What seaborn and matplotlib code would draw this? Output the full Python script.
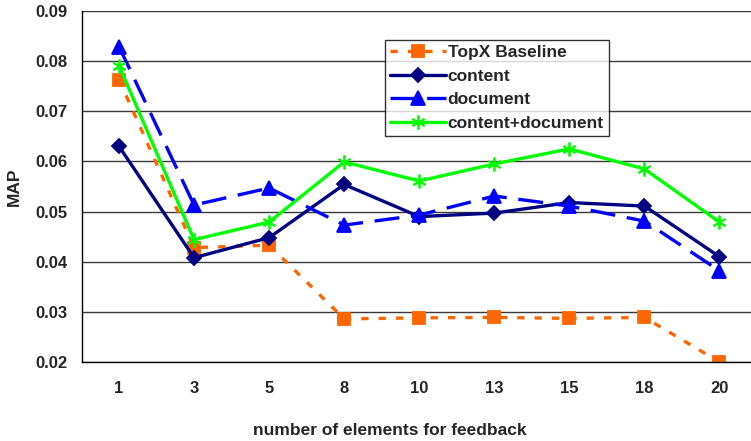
import matplotlib
matplotlib.use('Agg')
import matplotlib.pyplot as plt
from matplotlib.ticker import FixedLocator, NullFormatter
import seaborn as sns
import pandas as pd

k_values = ['1', '3', '5', '8', '10', '13', '15', '18', '20']
topx = [0.0763, 0.0428, 0.0433, 0.0286, 0.0288, 0.0289, 0.0287, 0.0289, 0.0200]
content = [0.0630, 0.0408, 0.0448, 0.0554, 0.0490, 0.0497, 0.0518, 0.0511, 0.0410]
document = [0.0829, 0.0513, 0.0547, 0.0473, 0.0493, 0.0531, 0.0511, 0.0481, 0.0382]
content_doc = [0.0791, 0.0444, 0.0479, 0.0599, 0.0561, 0.0595, 0.0625, 0.0585, 0.0479]

series = {
    'TopX Baseline': topx,
    'content': content,
    'document': document,
    'content+document': content_doc,
}
styles = {
    'TopX Baseline': dict(color='#FF6600', marker='s', ms=9, dashes=(2.2, 3.0)),
    'content': dict(color='#000080', marker='D', ms=7.5, dashes=None),
    'document': dict(color='#0000FF', marker='^', ms=10.5, dashes=(7.5, 3.5)),
    'content+document': dict(color='#00FF00', marker=(6, 2, 0), ms=10, dashes=None),
}

sns.set_style('white')
plt.rcParams['font.family'] = ['Liberation Sans', 'DejaVu Sans']
plt.rcParams['font.weight'] = 'bold'

fig = plt.figure(figsize=(7.51, 4.41), dpi=100)
ax = fig.add_axes([81.5 / 751, 1 - 362 / 441, (757 - 81.5) / 751, (362 - 11) / 441])

for name, vals in series.items():
    st = styles[name]
    df = pd.DataFrame({'k': k_values, 'MAP': vals})
    sns.lineplot(data=df, x='k', y='MAP', sort=False, ax=ax, color=st['color'],
                 marker=st['marker'], markersize=st['ms'], linewidth=2.4,
                 markeredgecolor=st['color'], markerfacecolor=st['color'],
                 markeredgewidth=1.3, label=name)
    if st['dashes'] is not None:
        ax.lines[-1].set_dashes(st['dashes'])

ax.set_xlim(-0.5, 8.5)
ax.set_ylim(0.02, 0.09)
ax.set_yticks([0.02, 0.03, 0.04, 0.05, 0.06, 0.07, 0.08, 0.09])
ax.set_yticklabels(['0.02', '0.03', '0.04', '0.05', '0.06', '0.07', '0.08', '0.09'])
ax.yaxis.grid(True, color='#3a3a3a', linewidth=1.0)
ax.set_axisbelow(True)
ax.set_xticks(range(len(k_values)))
ax.set_xticklabels(k_values)
ax.xaxis.set_minor_locator(FixedLocator([i + 0.5 for i in range(-1, 9)]))
ax.xaxis.set_minor_formatter(NullFormatter())
ax.tick_params(axis='x', which='major', length=0, pad=14, labelsize=12)
ax.tick_params(axis='x', which='minor', length=5, width=1, color='black', direction='out')
ax.tick_params(axis='y', length=5, width=1, color='black', direction='out', labelsize=12, pad=5)
for lbl in ax.get_xticklabels() + ax.get_yticklabels():
    lbl.set_fontweight('bold')

for s in ['top', 'right']:
    ax.spines[s].set_visible(False)
ax.spines['left'].set_color('black')
ax.spines['bottom'].set_color('black')
ax.spines['left'].set_linewidth(1)
ax.spines['bottom'].set_linewidth(1)

ax.set_xlabel('number of elements for feedback', fontsize=12.5, fontweight='bold')
ax.set_ylabel('MAP', fontsize=12.5, fontweight='bold')
ax.xaxis.set_label_coords(0.456, -0.175)
ax.yaxis.set_label_coords(-0.088, 0.5)

leg = ax.legend(loc='upper left', bbox_to_anchor=(385 / 751, 1 - 40 / 441), bbox_transform=fig.transFigure,
                frameon=True, fancybox=False, fontsize=12.5, handlelength=3.2, handletextpad=0.1,
                borderpad=0.3, labelspacing=0.48, borderaxespad=0)
leg.get_frame().set_edgecolor('black')
leg.get_frame().set_linewidth(1)
for t in leg.get_texts():
    t.set_fontweight('bold')

fig.savefig('out.png', dpi=100)
